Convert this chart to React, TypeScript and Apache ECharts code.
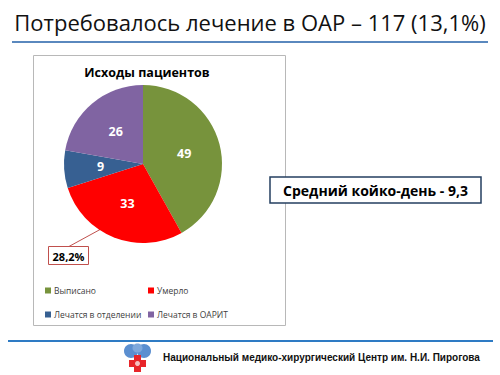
import React, { useEffect, useRef } from "react";
import * as echarts from "echarts";

const categories = ["Выписано", "Умерло", "Лечатся в отделении", "Лечатся в ОАРИТ"];
const values = [49, 33, 9, 26];
const colors = ["#77933C", "#FF0000", "#376092", "#8064A2"];
const pageTitle = "Потребовалось лечение в ОАР – 117 (13,1%)";
const chartTitle = "Исходы пациентов";
const calloutText = "28,2%";
const infoText = "Средний койко-день - 9,3";
const footerText = "Национальный медико-хирургический Центр им. Н.И. Пирогова";

const FONT = "'Open Sans', 'Noto Sans', sans-serif";

export default function App() {
  const ref = useRef<HTMLDivElement>(null);
  useEffect(() => {
    if (!ref.current) return;
    const chart = echarts.init(ref.current, null, { renderer: "svg" });
    const legendPos = [
      { left: 40, top: 281 },
      { left: 143, top: 281 },
      { left: 40, top: 305 },
      { left: 143, top: 305 },
    ];
    chart.setOption({
      animation: false,
      backgroundColor: "#ffffff",
      color: colors,
      title: {
        text: chartTitle,
        left: 142,
        top: 61,
        textAlign: "center",
        textStyle: { fontFamily: FONT, fontSize: 12.5, fontWeight: "bold", color: "#000" },
      },
      legend: categories.map((c, i) => ({
        data: [c],
        left: legendPos[i].left,
        top: legendPos[i].top,
        icon: "rect",
        itemWidth: 6,
        itemHeight: 6,
        itemGap: 4,
        selectedMode: false,
        textStyle: { fontFamily: FONT, fontSize: 8.5, color: "#404040", padding: [0, 0, 0, -2] },
      })),
      series: [
        {
          type: "pie",
          center: [143, 164],
          radius: 79,
          startAngle: 90,
          clockwise: true,
          data: categories.map((c, i) => ({ name: c, value: values[i] })),
          label: {
            show: true,
            position: "inside",
            formatter: "{c}",
            color: "#fff",
            fontFamily: FONT,
            fontSize: 12.5,
            fontWeight: "bold",
          },
          labelLine: { show: false },
          itemStyle: { borderWidth: 0 },
          emphasis: { disabled: true },
        },
      ],
      graphic: [
        {
          type: "text",
          x: 250,
          y: 22,
          style: {
            text: pageTitle,
            font: `22px ${FONT}`,
            fill: "#111",
            align: "center",
            verticalAlign: "middle",
          },
        },
        {
          type: "line",
          shape: { x1: 12, y1: 42, x2: 488, y2: 42 },
          style: { stroke: "#5A88BE", lineWidth: 2 },
        },
        {
          type: "rect",
          shape: { x: 33.5, y: 55.5, width: 252, height: 270 },
          style: { fill: "none", stroke: "#B8B8B8", lineWidth: 1 },
        },
        {
          type: "line",
          shape: { x1: 101, y1: 229, x2: 68, y2: 247 },
          style: { stroke: "#C0504D", lineWidth: 1 },
        },
        {
          type: "rect",
          shape: { x: 48.5, y: 246.5, width: 40, height: 18 },
          style: { fill: "#fff", stroke: "#C0504D", lineWidth: 1 },
        },
        {
          type: "text",
          x: 68.5,
          y: 256,
          style: {
            text: calloutText,
            font: `bold 11px ${FONT}`,
            fill: "#000",
            align: "center",
            verticalAlign: "middle",
          },
        },
        {
          type: "rect",
          shape: { x: 270, y: 177, width: 211, height: 26 },
          style: { fill: "#fff", stroke: "#243F60", lineWidth: 1.5 },
        },
        {
          type: "text",
          x: 375.5,
          y: 190.5,
          style: {
            text: infoText,
            font: `bold 14px ${FONT}`,
            fill: "#000",
            align: "center",
            verticalAlign: "middle",
          },
        },
        {
          type: "line",
          shape: { x1: 8, y1: 341, x2: 493, y2: 341 },
          style: { stroke: "#2E7BC4", lineWidth: 2 },
        },
        {
          type: "group",
          children: [
            { type: "ellipse", shape: { cx: 131, cy: 351, rx: 7, ry: 7 }, style: { fill: "#5B8FD0" } },
            { type: "ellipse", shape: { cx: 144, cy: 351, rx: 7, ry: 7 }, style: { fill: "#5B8FD0" } },
            { type: "ellipse", shape: { cx: 137.5, cy: 348, rx: 5, ry: 4.5 }, style: { fill: "#7EA8DC" } },
            { type: "rect", shape: { x: 134, y: 355, width: 7, height: 17 }, style: { fill: "#E8252A" } },
            { type: "rect", shape: { x: 129, y: 360, width: 17, height: 7 }, style: { fill: "#E8252A" } },
            { type: "circle", shape: { cx: 137.5, cy: 363.5, r: 2.5 }, style: { fill: "#F4C0C0" } },
          ],
        },
        {
          type: "text",
          x: 163,
          y: 357,
          style: {
            text: footerText,
            font: `bold 10px 'Liberation Sans', Arial, sans-serif`,
            fill: "#111",
            verticalAlign: "middle",
          },
        },
      ],
    });
    return () => chart.dispose();
  }, []);
  return (
    <div
      ref={ref}
      style={{ position: "fixed", left: 0, top: 0, width: 500, height: 375 }}
    />
  );
}
